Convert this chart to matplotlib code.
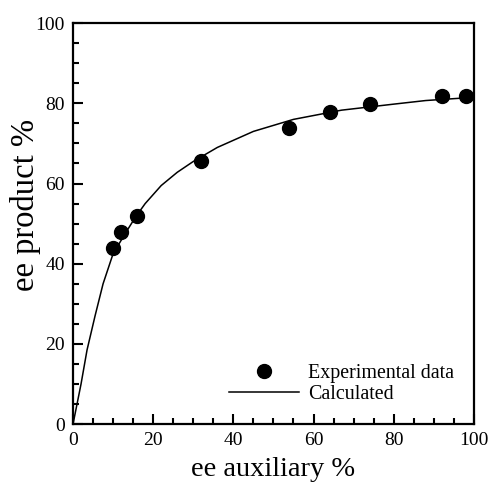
import matplotlib
matplotlib.use("Agg")
import matplotlib.pyplot as plt
from matplotlib.ticker import MultipleLocator

# experimental points
exp_x = [10, 12, 16, 32, 54, 64, 74, 92, 98]
exp_y = [44, 48, 52, 65.5, 73.8, 77.8, 79.8, 81.8, 81.8]

# calculated curve
calc_x = [0, 1, 2, 3.5, 5.5, 7.5, 10, 13, 15.5, 18, 22, 26, 30, 36, 45, 55, 67, 80, 88, 100]
calc_y = [0, 5, 10, 18.5, 27, 35, 42.5, 47.5, 51.5, 55, 59.5, 62.8, 65.5, 69, 73, 76, 78.3, 79.8, 80.7, 81.5]

plt.rcParams['font.family'] = ['Liberation Serif']

fig = plt.figure(figsize=(4.9, 4.82), dpi=100)
ax = fig.add_axes([0.149, 0.120, 0.818, 0.832])

ax.plot(exp_x, exp_y, 'o', color='black', markersize=10, label='Experimental data')
ax.plot(calc_x, calc_y, '-', color='black', linewidth=1.1, label='Calculated')

ax.set_xlim(0, 100)
ax.set_ylim(0, 100)
ax.xaxis.set_major_locator(MultipleLocator(20))
ax.yaxis.set_major_locator(MultipleLocator(20))
ax.xaxis.set_minor_locator(MultipleLocator(5))
ax.yaxis.set_minor_locator(MultipleLocator(5))
ax.tick_params(which='both', direction='in', top=False, right=False, width=1.5, labelsize=14, pad=6)
ax.tick_params(which='major', length=7)
ax.tick_params(which='minor', length=4)
for s in ax.spines.values():
    s.set_linewidth(1.6)

ax.set_xlabel('ee auxiliary %', fontsize=20.5, labelpad=5.5)
ax.set_ylabel('ee product %', fontsize=23.5)
ax.yaxis.set_label_coords(-0.08, 0.546)

ax.legend(loc='lower right', bbox_to_anchor=(0.995, 0.005), frameon=False, fontsize=14.4,
          handlelength=3.5, handletextpad=0.45, labelspacing=0.1)

fig.savefig('out.png', dpi=100)
